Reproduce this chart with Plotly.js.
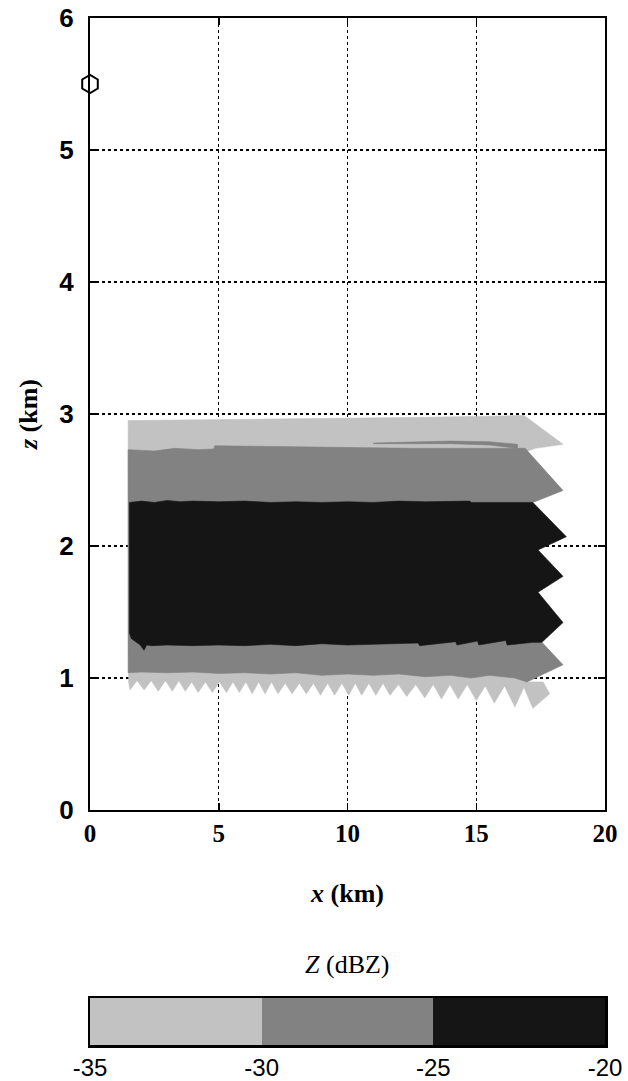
<!DOCTYPE html>
<html>
<head>
<meta charset="utf-8">
<script src="https://cdn.plot.ly/plotly-3.0.1.min.js"></script>
<style>
  html, body { margin: 0; padding: 0; background: #ffffff; }
  #chart { width: 628px; height: 1081px; }
</style>
</head>
<body>
<div id="chart"></div>
<script>
// ---------- data (x in km, z in km) ----------
// reflectivity class bounds (dBZ) and colours
const levels = [-35, -30, -25, -20];
const levelLabels = ['-35', '-30', '-25', '-20'];
const levelColors = ['#c2c2c2', '#828282', '#151515'];
const classCenters = [-32.5, -27.5, -22.5];

// -35..-30 dBZ region (light) : top edge, right edge, bottom teeth
const lightTopX = [1.48, 4.0, 7.0, 10.0, 13.0, 16.0, 16.85];
const lightTopZ = [2.95, 2.955, 2.965, 2.97, 2.975, 2.985, 2.99];
const lightRightX = [18.37, 17.3, 17.0, 17.0, 16.97, 17.6, 17.85];
const lightRightZ = [2.77, 2.74, 2.72, 1.10, 0.97, 0.97, 0.88];
const toothTipX = [1.55, 2.1, 2.65, 3.2, 3.7, 4.2, 4.75, 5.3, 5.8, 6.3, 6.8, 7.3, 7.85, 8.4,
                   8.95, 9.5, 10.05, 10.55, 11.1, 11.65, 12.3, 13.0, 13.65, 14.3, 15.0, 15.7, 16.5, 17.2];
const toothTipZ = [0.91, 0.91, 0.90, 0.90, 0.90, 0.89, 0.89, 0.89, 0.89, 0.88, 0.88, 0.88, 0.88, 0.88,
                   0.87, 0.87, 0.87, 0.87, 0.87, 0.87, 0.86, 0.85, 0.84, 0.84, 0.83, 0.81, 0.78, 0.77];
const toothNotchX = [1.83, 2.38, 2.93, 3.45, 3.95, 4.48, 5.03, 5.55, 6.05, 6.55, 7.05, 7.58, 8.13, 8.68,
                     9.23, 9.78, 10.3, 10.83, 11.38, 11.98, 12.65, 13.33, 13.98, 14.65, 15.35, 16.1, 16.85];
const toothNotchZ = [0.98, 0.98, 0.98, 0.98, 0.97, 0.97, 0.97, 0.97, 0.97, 0.97, 0.97, 0.96, 0.96, 0.96,
                     0.96, 0.96, 0.96, 0.96, 0.96, 0.95, 0.95, 0.95, 0.95, 0.95, 0.94, 0.94, 0.93];
const lightLeftX = [1.5];
const lightLeftZ = [0.97];

// -30..-25 dBZ region (mid)
const midTopX = [1.48, 2.5, 3.3, 4.2, 4.8, 4.85, 6.5, 8.0, 9.5, 11.0, 12.5, 14.0, 15.5, 16.9];
const midTopZ = [2.73, 2.72, 2.74, 2.73, 2.735, 2.76, 2.755, 2.75, 2.745, 2.745, 2.74, 2.74, 2.74, 2.74];
const midRightX = [18.37, 17.2, 17.0, 17.0, 17.55, 18.37, 16.97];
const midRightZ = [2.42, 2.33, 2.30, 1.50, 1.27, 1.10, 0.97];
const midBottomX = [16.5, 15.5, 14.8, 14.0, 13.0, 12.0, 11.0, 10.0, 9.0, 8.0, 7.0, 6.0, 5.0, 4.0, 3.0, 2.0, 1.48];
const midBottomZ = [1.00, 1.02, 1.00, 1.02, 1.01, 1.03, 1.02, 1.03, 1.02, 1.04, 1.03, 1.04, 1.035, 1.045, 1.04, 1.045, 1.04];

// thin -30..-25 dBZ streak inside the light top band
const streakX = [11.0, 12.5, 14.0, 15.5, 16.6, 16.6, 15.5, 14.0, 12.5, 11.0];
const streakZ = [2.78, 2.79, 2.795, 2.79, 2.77, 2.74, 2.765, 2.775, 2.775, 2.775];

// -25..-20 dBZ region (dark)
const darkTopX = [1.53, 2.0, 2.5, 3.0, 3.5, 4.0, 5.0, 6.0, 7.0, 8.0, 9.0, 10.0, 11.0, 12.0, 13.0, 14.0, 14.75, 14.8, 16.0, 17.2];
const darkTopZ = [2.33, 2.34, 2.33, 2.345, 2.335, 2.34, 2.335, 2.34, 2.33, 2.335, 2.33, 2.335, 2.33, 2.34, 2.335, 2.34, 2.34, 2.33, 2.33, 2.33];
const darkRightX = [18.5, 17.4, 18.37, 17.4, 18.37, 17.55];
const darkRightZ = [2.07, 1.97, 1.77, 1.65, 1.42, 1.27];
const darkBottomX = [17.2, 16.2, 16.15, 15.1, 15.05, 14.25, 14.2, 12.8, 12.75, 11.0, 10.0, 9.0, 8.0, 7.0, 6.0, 5.0, 4.0, 3.0, 2.4, 2.2, 2.1, 1.95, 1.6, 1.53];
const darkBottomZ = [1.27, 1.25, 1.285, 1.25, 1.28, 1.25, 1.275, 1.245, 1.265, 1.255, 1.25, 1.26, 1.245, 1.255, 1.245, 1.25, 1.245, 1.25, 1.245, 1.25, 1.21, 1.25, 1.30, 1.34];

// radar location marker
const radarX = [0];
const radarZ = [5.5];

// axis ticks
const xTicks = [0, 5, 10, 15, 20];
const zTicks = [0, 1, 2, 3, 4, 5, 6];

// ---------- build polygons ----------
function lightPolygon() {
  const xs = [], zs = [];
  lightTopX.forEach((v, i) => { xs.push(v); zs.push(lightTopZ[i]); });
  lightRightX.forEach((v, i) => { xs.push(v); zs.push(lightRightZ[i]); });
  for (let i = toothTipX.length - 1; i >= 0; i--) {
    xs.push(toothTipX[i]); zs.push(toothTipZ[i]);
    if (i > 0) { xs.push(toothNotchX[i - 1]); zs.push(toothNotchZ[i - 1]); }
  }
  lightLeftX.forEach((v, i) => { xs.push(v); zs.push(lightLeftZ[i]); });
  xs.push(lightTopX[0]); zs.push(lightTopZ[0]);
  return [xs, zs];
}
function concatPoly(parts) {
  const xs = [], zs = [];
  parts.forEach(([px, pz]) => { px.forEach((v, i) => { xs.push(v); zs.push(pz[i]); }); });
  xs.push(xs[0]); zs.push(zs[0]);
  return [xs, zs];
}

const [lx, lz] = lightPolygon();
const [mx, mz] = concatPoly([[midTopX, midTopZ], [midRightX, midRightZ], [midBottomX, midBottomZ]]);
const [dx, dz] = concatPoly([[darkTopX, darkTopZ], [darkRightX, darkRightZ], [darkBottomX, darkBottomZ]]);

function area(x, y, color, name) {
  return {
    type: 'scatter', mode: 'lines', x: x, y: y, fill: 'toself',
    fillcolor: color, line: { width: 0.6, color: color }, hoverinfo: 'skip',
    showlegend: false, name: name, xaxis: 'x', yaxis: 'y'
  };
}

const traces = [
  area(lx, lz, levelColors[0], '-35 to -30 dBZ'),
  area(mx, mz, levelColors[1], '-30 to -25 dBZ'),
  area(streakX, streakZ, levelColors[1], '-30 to -25 dBZ'),
  area(dx, dz, levelColors[2], '-25 to -20 dBZ'),
  {
    type: 'scatter', mode: 'markers', x: radarX, y: radarZ, cliponaxis: false,
    marker: { symbol: 'hexagon-open', size: 18, color: '#000', line: { width: 2, color: '#000' } },
    hoverinfo: 'skip', showlegend: false, xaxis: 'x', yaxis: 'y'
  },
  // colour bar drawn as a heatmap on its own axis
  {
    type: 'heatmap', x: classCenters, y: [0], z: [classCenters],
    zmin: levels[0], zmax: levels[levels.length - 1],
    colorscale: [[0, levelColors[0]], [1 / 3, levelColors[0]], [1 / 3, levelColors[1]],
                 [2 / 3, levelColors[1]], [2 / 3, levelColors[2]], [1, levelColors[2]]],
    showscale: false, hoverinfo: 'skip', xaxis: 'x2', yaxis: 'y2'
  }
];

const serif = 'Liberation Serif, Times New Roman, serif';
const sans = 'Liberation Sans, Arial, sans-serif';

const H = 1081, mt = 18, mb = 36;
const ph = H - mt - mb;
const px2dom = (py) => (H - mb - py) / ph;

const layout = {
  width: 628, height: 1081,
  margin: { l: 90, r: 23, t: mt, b: mb },
  paper_bgcolor: '#ffffff', plot_bgcolor: 'rgba(0,0,0,0)',
  showlegend: false,
  xaxis: {
    domain: [0, 1], anchor: 'y', range: [0, 20], tickvals: xTicks,
    ticks: 'inside', ticklen: 7, tickwidth: 1.5, tickcolor: '#000',
    showline: true, linecolor: '#000', linewidth: 2, mirror: 'ticks',
    showgrid: true, gridcolor: '#000', gridwidth: 1.3, griddash: 'dot',
    zeroline: false, layer: 'above traces',
    tickfont: { family: serif, size: 25, color: '#000', weight: 'bold' },
    title: { text: '<i>x</i> (km)', standoff: 38,
             font: { family: serif, size: 26, color: '#000', weight: 'bold' } }
  },
  yaxis: {
    domain: [px2dom(810), px2dom(18)], anchor: 'x', range: [0, 6], tickvals: zTicks,
    ticks: 'inside', ticklen: 7, tickwidth: 1.5, tickcolor: '#000',
    showline: true, linecolor: '#000', linewidth: 2, mirror: 'ticks',
    showgrid: true, gridcolor: '#000', gridwidth: 1.3, griddash: 'dot',
    zeroline: false, layer: 'above traces', ticklabelstandoff: 9,
    tickfont: { family: sans, size: 26, color: '#000', weight: 'bold' },
    title: { text: '<i>z</i> (km)', standoff: 14,
             font: { family: serif, size: 26, color: '#000', weight: 'bold' } }
  },
  xaxis2: {
    domain: [0, 1], anchor: 'y2', range: [levels[0], levels[levels.length - 1]],
    tickvals: levels, ticktext: levelLabels,
    ticks: '', showline: true, linecolor: '#000', linewidth: 2.5, mirror: true,
    showgrid: false, zeroline: false, ticklabelstandoff: 0,
    tickfont: { family: sans, size: 24, color: '#000' }
  },
  yaxis2: {
    domain: [px2dom(1045), px2dom(998)], anchor: 'x2', range: [-0.5, 0.5],
    showticklabels: false, ticks: '', showline: true, linecolor: '#000', linewidth: 2.5,
    mirror: true, showgrid: false, zeroline: false
  },
  annotations: [
    { text: '<i>Z</i> (dBZ)', xref: 'paper', yref: 'paper', x: 0.5, y: px2dom(964),
      xanchor: 'center', yanchor: 'middle', showarrow: false,
      font: { family: serif, size: 26, color: '#000' } }
  ]
};

Plotly.newPlot('chart', traces, layout, { staticPlot: true, displayModeBar: false });
</script>
</body>
</html>
